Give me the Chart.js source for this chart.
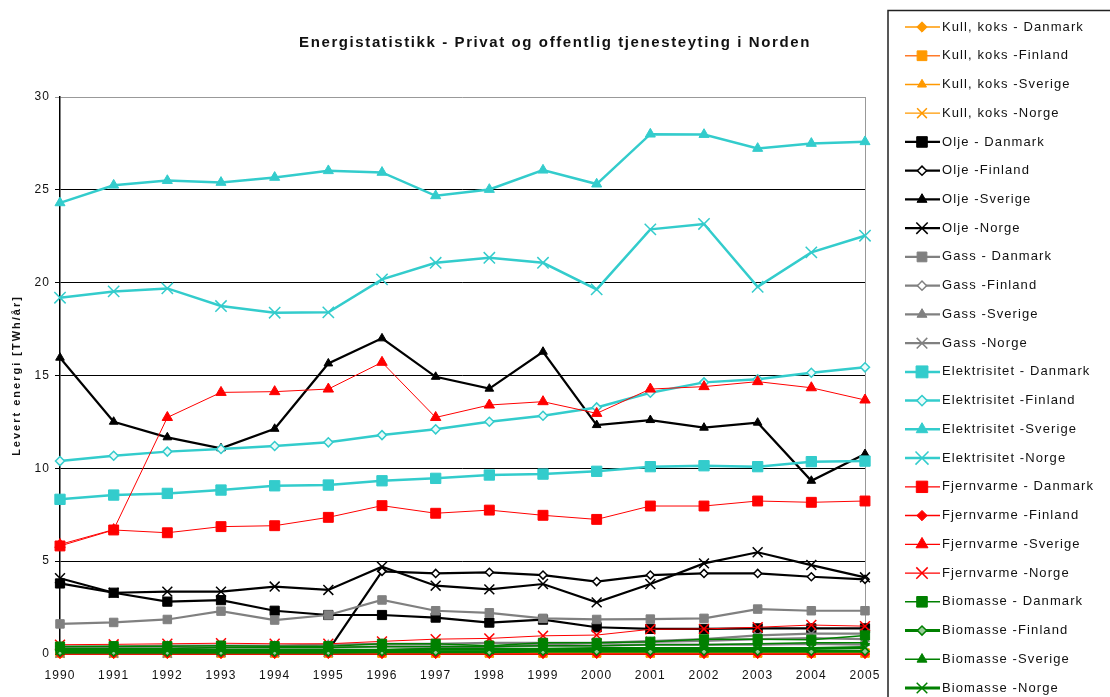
<!DOCTYPE html>
<html>
<head>
<meta charset="utf-8">
<script src="https://cdn.jsdelivr.net/npm/chart.js@4.4.1/dist/chart.umd.min.js"></script>
<style>
html,body{margin:0;padding:0;background:#fff;}
#wrap{width:1110px;height:697px;position:relative;}
</style>
</head>
<body>
<div id="wrap"><canvas id="c"></canvas></div>
<script>
// ---------- DATA ----------
const years = ['1990','1991','1992','1993','1994','1995','1996','1997','1998','1999','2000','2001','2002','2003','2004','2005'];
const yTickStep = 5;
const yMin = 0;
const yMax = 30;

const kullDanmark   = [0,0,0,0,0,0,0,0,0,0,0,0,0,0,0,0];
const kullFinland   = [0.05,0.05,0.05,0.05,0.05,0.05,0.05,0.05,0.05,0.05,0.05,0.05,0.05,0.05,0.05,0.05];
const kullSverige   = [0.1,0.1,0.1,0.1,0.1,0.1,0.1,0.1,0.1,0.1,0.1,0.1,0.1,0.1,0.1,0.1];
const kullNorge     = [0.05,0.05,0.05,0.05,0.05,0.05,0.05,0.05,0.05,0.05,0.05,0.05,0.05,0.05,0.05,0.05];

const oljeDanmark   = [3.8,3.3,2.82,2.9,2.33,2.1,2.1,1.96,1.69,1.85,1.44,1.35,1.35,1.38,1.38,1.38];
const oljeFinland   = [0.2,0.2,0.2,0.2,0.2,0.2,4.45,4.34,4.4,4.25,3.9,4.25,4.34,4.34,4.16,4.02];
const oljeSverige   = [15.96,12.51,11.67,11.08,12.13,15.65,17.0,14.93,14.29,16.28,12.33,12.6,12.19,12.46,9.33,10.77];
const oljeNorge     = [4.08,3.3,3.36,3.36,3.63,3.45,4.7,3.68,3.48,3.77,2.78,3.77,4.88,5.48,4.79,4.13];

const gassDanmark   = [1.62,1.7,1.86,2.31,1.83,2.1,2.91,2.33,2.22,1.92,1.86,1.88,1.92,2.42,2.33,2.33];
const gassFinland   = [0.3,0.3,0.3,0.35,0.35,0.35,0.4,0.4,0.4,0.45,0.45,0.5,0.5,0.5,0.55,0.5];
const gassSverige   = [0.4,0.4,0.45,0.45,0.45,0.5,0.55,0.55,0.6,0.6,0.6,0.65,0.7,0.8,0.85,0.8];
const gassNorge     = [0.05,0.05,0.05,0.1,0.1,0.1,0.2,0.3,0.4,0.5,0.6,0.7,0.8,1.0,1.1,1.1];

const elDanmark     = [8.33,8.56,8.65,8.83,9.06,9.1,9.33,9.46,9.64,9.69,9.84,10.09,10.14,10.09,10.36,10.39];
const elFinland     = [10.39,10.68,10.9,11.04,11.2,11.4,11.79,12.1,12.51,12.83,13.28,14.07,14.63,14.8,15.15,15.44];
const elSverige     = [24.3,25.25,25.5,25.4,25.67,26.03,25.94,24.68,25.02,26.06,25.31,28.0,27.98,27.23,27.5,27.59];
const elNorge       = [19.19,19.53,19.69,18.74,18.38,18.4,20.18,21.07,21.34,21.07,19.64,22.87,23.16,19.78,21.63,22.53];

const fjDanmark     = [5.82,6.68,6.53,6.86,6.91,7.36,7.99,7.58,7.75,7.47,7.25,7.97,7.97,8.24,8.17,8.24];
const fjFinland     = [0,0,0,0,0,0,0,0,0,0,0,0,0,0,0,0];
const fjSverige     = [5.9,6.7,12.74,14.09,14.13,14.27,15.71,12.74,13.41,13.59,12.96,14.27,14.4,14.67,14.34,13.68];
const fjNorge       = [0.5,0.52,0.55,0.58,0.55,0.55,0.68,0.8,0.84,0.98,1.02,1.33,1.35,1.44,1.56,1.5];

const bioDanmark    = [0.4,0.42,0.42,0.45,0.42,0.42,0.55,0.55,0.45,0.6,0.6,0.66,0.79,0.8,0.77,1.0];
const bioFinland    = [0.1,0.1,0.1,0.1,0.1,0.1,0.12,0.12,0.12,0.15,0.15,0.15,0.15,0.15,0.15,0.15];
const bioSverige    = [0.3,0.3,0.3,0.35,0.35,0.35,0.4,0.4,0.4,0.45,0.45,0.5,0.5,0.55,0.6,0.6];
const bioNorge      = [0.2,0.2,0.2,0.2,0.2,0.2,0.2,0.25,0.25,0.25,0.3,0.3,0.3,0.3,0.3,0.35];

const seriesNames = [
  'Kull, koks - Danmark','Kull, koks -Finland','Kull, koks -Sverige','Kull, koks -Norge',
  'Olje - Danmark','Olje -Finland','Olje -Sverige','Olje -Norge',
  'Gass - Danmark','Gass -Finland','Gass -Sverige','Gass -Norge',
  'Elektrisitet - Danmark','Elektrisitet -Finland','Elektrisitet -Sverige','Elektrisitet -Norge',
  'Fjernvarme - Danmark','Fjernvarme -Finland','Fjernvarme -Sverige','Fjernvarme -Norge',
  'Biomasse - Danmark','Biomasse -Finland','Biomasse -Sverige','Biomasse -Norge'
];
const seriesValues = [
  kullDanmark,kullFinland,kullSverige,kullNorge,
  oljeDanmark,oljeFinland,oljeSverige,oljeNorge,
  gassDanmark,gassFinland,gassSverige,gassNorge,
  elDanmark,elFinland,elSverige,elNorge,
  fjDanmark,fjFinland,fjSverige,fjNorge,
  bioDanmark,bioFinland,bioSverige,bioNorge
];

const chartTitle = 'Energistatistikk - Privat og offentlig tjenesteyting i Norden';
const yTitle = 'Levert energi [TWh/år]';

// ---------- STYLES ----------
const fuelStyles = [
  {color:'#FF9900', lines:[1,1,1,1], lineColors:['#FF9900','#FF7A2A','#FF9900','#FF9900'], shapes:['rectRot','rect','triangle','crossRot'], r:[4.5,6,4.5,6], hollowFill:null},
  {color:'#000000', lines:[2.2,2.2,2.2,2.2], r:[6.5,4,5,7], hollowFill:'#ffffff'},
  {color:'#808080', lines:[2.2,2.2,2.2,2.2], r:[6,4,5,6.5], hollowFill:'#ffffff'},
  {color:'#33CCCC', lines:[2.5,2.5,2.5,2.5], r:[7.3,4.5,5.8,8], hollowFill:'#eafafa'},
  {color:'#FF0000', lines:[1,1.5,1,1], r:[7,4.5,6,7], hollowFill:null},
  {color:'#008000', lines:[1.5,3,1.5,3], r:[6.5,4,5,6.5], hollowFill:'#99cc99'}
];
const countryStyles = ['rect','rectRot','triangle','crossRot'];

const datasets = seriesNames.map((name, i) => {
  const f = fuelStyles[Math.floor(i / 4)];
  const c = i % 4;
  const ps = f.shapes ? f.shapes[c] : countryStyles[c];
  const lineColor = f.lineColors ? f.lineColors[c] : f.color;
  let fill = f.color, bw = 1;
  if (ps === 'rectRot' && f.hollowFill) { fill = f.hollowFill; bw = 1.5; }
  if (ps === 'crossRot') bw = 1.5;
  return {
    label: name,
    data: seriesValues[i],
    yAxisID: 'y',
    borderColor: lineColor,
    backgroundColor: f.color,
    borderWidth: f.lines[c],
    pointStyle: ps,
    pointRadius: f.r[c],
    pointHoverRadius: f.r[c],
    pointBackgroundColor: fill,
    pointBorderColor: f.color,
    pointBorderWidth: bw,
    tension: 0,
    fill: false,
    clip: false,
    order: seriesNames.length - 1 - i
  };
});

const FONT = "'Liberation Sans', Arial, sans-serif";
Chart.defaults.font.family = FONT;
Chart.defaults.color = '#111';

const spacingPlugin = {
  id: 'spacing',
  beforeDraw(chart) {
    chart.ctx.letterSpacing = '1.1px';
    const t = chart.titleBlock;
    if (t && !t._ls) {
      const d = t.draw;
      t.draw = function(...a) { const c = this.ctx; c.save(); c.letterSpacing = '1.6px'; d.apply(this, a); c.restore(); };
      t._ls = true;
    }
    const ys = chart.scales.y;
    if (ys && !ys._ls) {
      const d = ys.drawTitle;
      ys.drawTitle = function(...a) { const c = this.ctx; c.save(); c.letterSpacing = '2px'; d.apply(this, a); c.restore(); };
      ys._ls = true;
    }
  }
};

const boxLegend = {
  id: 'boxLegend',
  afterDraw(chart) {
    const ctx = chart.ctx;
    const x0 = chart.chartArea.right + 23;
    ctx.save();
    ctx.strokeStyle = '#222';
    ctx.lineWidth = 1.5;
    ctx.beginPath();
    ctx.moveTo(x0, chart.height + 2);
    ctx.lineTo(x0, 10.5);
    ctx.lineTo(chart.width + 2, 10.5);
    ctx.stroke();
    const H = Chart.helpers;
    chart.data.datasets.forEach((ds, i) => {
      const y = 27 + i * 28.74;
      ctx.strokeStyle = ds.borderColor;
      ctx.lineWidth = Math.max(ds.borderWidth, 1.3);
      ctx.beginPath();
      ctx.moveTo(x0 + 17, y);
      ctx.lineTo(x0 + 52, y);
      ctx.stroke();
      ctx.fillStyle = ds.pointBackgroundColor;
      ctx.strokeStyle = ds.pointBorderColor;
      ctx.lineWidth = ds.pointBorderWidth;
      if (H && H.drawPoint) {
        H.drawPoint(ctx, {pointStyle: ds.pointStyle, radius: ds.pointRadius * 1.15, borderWidth: ds.pointBorderWidth, rotation: 0}, x0 + 34, y);
      }
      ctx.fillStyle = '#111';
      ctx.font = '13px ' + FONT;
      ctx.letterSpacing = '1.1px';
      ctx.textBaseline = 'middle';
      ctx.textAlign = 'left';
      ctx.fillText(ds.label, x0 + 54, y);
    });
    ctx.restore();
  }
};

new Chart(document.getElementById('c'), {
  type: 'line',
  data: { labels: years, datasets: datasets },
  plugins: [spacingPlugin, boxLegend],
  options: {
    responsive: true,
    maintainAspectRatio: false,
    animation: false,
    devicePixelRatio: 1,
    layout: { padding: { left: 0, right: 0, top: 0, bottom: 0 } },
    plugins: {
      legend: { display: false },
      tooltip: { enabled: false },
      title: {
        display: true,
        text: chartTitle,
        color: '#111',
        font: { size: 15, weight: 'bold', family: FONT },
        padding: { top: 34, bottom: 45 }
      }
    },
    scales: {
      x: {
        type: 'category',
        offset: false,
        grid: {
          display: true,
          drawTicks: false,
          lineWidth: 1,
          color: (c) => (c.index === years.length - 1 ? '#999999' : 'rgba(0,0,0,0)')
        },
        border: { display: true, color: '#000', width: 1 },
        ticks: { autoSkip: false, maxRotation: 0, minRotation: 0, padding: 14, color: '#111', font: { size: 12 } },
        afterFit: (s) => { s.height = 43; }
      },
      y: {
        position: 'left',
        min: yMin,
        max: yMax,
        grid: {
          color: (c) => (c.tick && c.tick.value === yMax ? '#999999' : '#000000'),
          lineWidth: 1,
          tickLength: 5,
          drawTicks: true
        },
        border: { display: true, color: '#000', width: 1.5 },
        ticks: { stepSize: yTickStep, padding: 5, color: '#111', font: { size: 12 } },
        title: {
          display: true,
          text: yTitle,
          color: '#111',
          font: { size: 11, weight: 'bold', family: FONT },
          padding: { top: 10, bottom: 0 }
        },
        afterFit: (s) => { s.width = 60; }
      },
      legendSpace: {
        position: 'right',
        display: true,
        min: yMin,
        max: yMax,
        grid: { display: false, drawTicks: false },
        border: { display: false },
        ticks: { display: false },
        afterFit: (s) => { s.width = 245; }
      }
    }
  }
});
</script>
</body>
</html>
